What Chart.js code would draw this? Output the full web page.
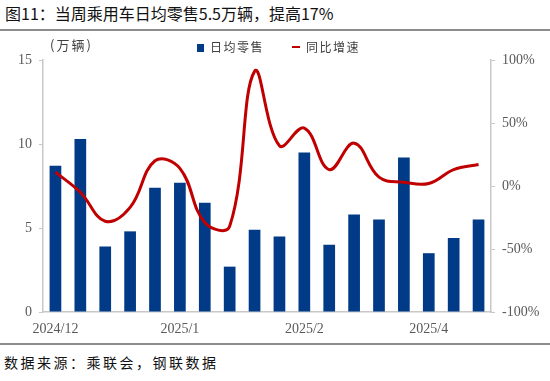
<!DOCTYPE html>
<html>
<head>
<meta charset="utf-8">
<script src="https://cdn.jsdelivr.net/npm/chart.js@4/dist/chart.umd.min.js"></script>
<style>
  html, body { margin: 0; padding: 0; background: #fff; }
  body { width: 550px; height: 381px; position: relative; overflow: hidden; font-family: "Noto Sans CJK SC", sans-serif; }
  .abs { position: absolute; white-space: nowrap; }
  #title { left: 5px; top: 3px; font-size: 16px; color: #111; line-height: 20px; }
  .rule { left: 0; width: 550px; height: 1.5px; background: #8c8c8c; }
  #unit { left: 50px; top: 36px; font-size: 13px; color: #404040; letter-spacing: 2px; line-height: 18px; }
  .leg { top: 39px; font-size: 12px; color: #404040; letter-spacing: 1.5px; line-height: 16px; }
  #source { left: 4px; top: 352px; font-size: 14px; color: #111; letter-spacing: 2.5px; line-height: 20px; }
  #wrap { left: 0; top: 31px; width: 550px; height: 312px; }
</style>
</head>
<body>
<div id="title" class="abs">图11：当周乘用车日均零售5.5万辆，提高17%</div>
<div class="abs rule" style="top:29px"></div>
<div id="wrap" class="abs"><canvas id="chart1" width="550" height="312"></canvas></div>
<div id="unit" class="abs">(万辆)</div>
<div class="abs" style="left:197px;top:44px;width:7px;height:8px;background:#013a86"></div>
<div class="abs leg" style="left:210px">日均零售</div>
<div class="abs" style="left:292px;top:46px;width:8px;height:2px;background:#c00000"></div>
<div class="abs leg" style="left:306px">同比增速</div>
<div class="abs rule" style="top:343px"></div>
<div id="source" class="abs">数据来源：乘联会，钢联数据</div>

<script>
'use strict'

// weekly categories, only month starts are labelled
const weeks = ['2024/12', '', '', '', '', '2025/1', '', '', '', '', '2025/2', '', '', '', '', '2025/4', '', '']
const dailySales = [8.7, 10.3, 3.9, 4.8, 7.4, 7.7, 6.5, 2.7, 4.9, 4.5, 9.5, 4.0, 5.8, 5.5, 9.2, 3.5, 4.4, 5.5]
const yoyGrowth = [11, -5, -28, -17, 20, 14, -29, -32, 91, 32, 46, 13, 34, 7, 3, 2, 13, 17]
const leftTicks = [0, 5, 10, 15]
const rightTicks = [-100, -50, 0, 50, 100]

const tickFont = { family: 'Liberation Serif', size: 14 }
const tickColor = '#595959'
const axisColor = '#c8c8c8'

const ctx = document.getElementById('chart1').getContext('2d')
const chart = new Chart(ctx, {
	data: {
		labels: weeks,
		datasets: [
			{
				type: 'line',
				label: '同比增速',
				data: yoyGrowth,
				yAxisID: 'y1',
				borderColor: '#c00000',
				borderWidth: 3,
				pointRadius: 0,
				tension: 0.4,
				order: 0
			},
			{
				type: 'bar',
				label: '日均零售',
				data: dailySales,
				yAxisID: 'y',
				backgroundColor: '#013a86',
				barPercentage: 0.47,
				categoryPercentage: 1,
				order: 1
			}
		]
	},
	options: {
		responsive: false,
		animation: false,
		devicePixelRatio: 1,
		layout: { padding: { top: 29, left: 0, right: 0, bottom: 0 } },
		plugins: {
			legend: { display: false },
			tooltip: { enabled: false }
		},
		scales: {
			x: {
				afterFit: (s) => { s.height = 31 },
				grid: { display: false, drawTicks: false },
				border: { display: true, color: axisColor, width: 1.5 },
				ticks: { autoSkip: false, maxRotation: 0, padding: 9, font: tickFont, color: tickColor }
			},
			y: {
				position: 'left',
				min: leftTicks[0],
				max: leftTicks[leftTicks.length - 1],
				afterFit: (s) => { s.width = 43 },
				afterBuildTicks: (s) => { s.ticks = leftTicks.map(v => ({ value: v })) },
				grid: { drawOnChartArea: false, drawTicks: true, tickLength: 4, color: axisColor },
				border: { display: true, color: axisColor, width: 1.5 },
				ticks: { padding: 7, font: tickFont, color: tickColor }
			},
			y1: {
				position: 'right',
				min: rightTicks[0],
				max: rightTicks[rightTicks.length - 1],
				afterFit: (s) => { s.width = 59 },
				afterBuildTicks: (s) => { s.ticks = rightTicks.map(v => ({ value: v })) },
				grid: { drawOnChartArea: false, drawTicks: true, tickLength: 4, color: axisColor },
				border: { display: true, color: axisColor, width: 1.5 },
				ticks: { padding: 7, font: tickFont, color: tickColor, callback: (v) => v + '%' }
			}
		}
	}
})
</script>
</body>
</html>
